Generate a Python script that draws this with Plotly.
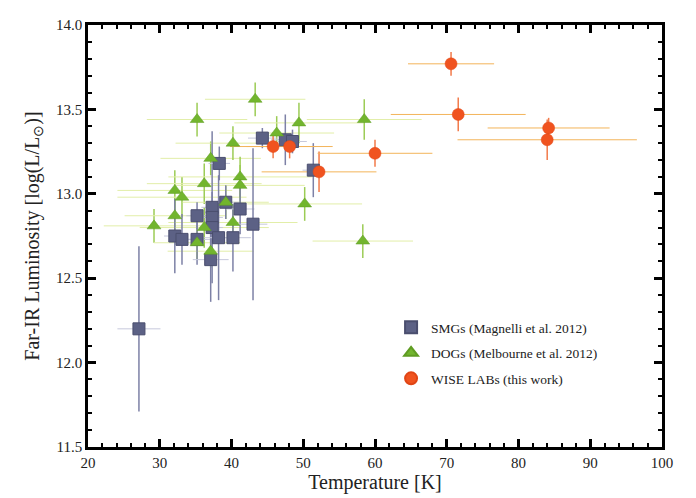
import plotly.graph_objects as go

# SMGs (Magnelli et al. 2012)
smg_T = [27.1, 32.1, 33.1, 35.2, 35.2, 37.1, 37.3, 37.3, 37.3, 38.2, 38.3, 39.2, 40.2, 41.2, 43.0, 44.3, 47.5, 48.5, 51.4]
smg_L = [12.20, 12.75, 12.73, 12.87, 12.73, 12.61, 12.92, 12.86, 12.80, 12.74, 13.18, 12.95, 12.74, 12.91, 12.82, 13.33, 13.32, 13.31, 13.14]
smg_Terr = [3.0, 1.5, 1.5, 1.5, 2.0, 2.5, 1.5, 1.5, 1.5, 2.5, 1.5, 2.0, 2.5, 2.0, 2.0, 2.0, 2.0, 2.0, 1.5]
smg_Lerr = [0.49, 0.22, 0.15, 0.08, 0.15, 0.25, 0.45, 0.15, 0.10, 0.37, 0.10, 0.10, 0.20, 0.15, 0.45, 0.06, 0.15, 0.07, 0.16]

# DOGs (Melbourne et al. 2012)
dog_T = [29.2, 32.1, 32.1, 33.1, 35.2, 35.2, 36.2, 36.2, 37.1, 37.1, 39.2, 40.2, 40.2, 41.2, 41.2, 43.3, 46.3, 49.4, 50.2, 58.3, 58.5]
dog_L = [12.81, 13.02, 12.87, 12.98, 13.44, 12.71, 13.06, 12.80, 13.21, 12.66, 12.95, 13.30, 12.83, 13.10, 13.05, 13.56, 13.36, 13.42, 12.94, 12.72, 13.44]
dog_Terr = [7.0, 8.0, 7.0, 9.0, 7.0, 6.0, 8.0, 9.0, 7.0, 6.0, 6.0, 8.0, 9.0, 10.0, 9.0, 7.0, 8.0, 9.0, 8.0, 7.0, 8.0]
dog_Lerr = [0.10, 0.12, 0.10, 0.12, 0.10, 0.10, 0.12, 0.12, 0.10, 0.10, 0.10, 0.10, 0.10, 0.12, 0.12, 0.10, 0.10, 0.12, 0.10, 0.10, 0.12]

# WISE LABs (this work)
wise_T = [45.8, 48.1, 52.2, 60.0, 70.6, 71.6, 84.2, 84.0]
wise_L = [13.28, 13.28, 13.13, 13.24, 13.77, 13.47, 13.39, 13.32]
wise_Terr = [6.0, 6.0, 8.0, 8.0, 6.0, 9.4, 8.5, 12.5]
wise_Lerr = [0.07, 0.07, 0.12, 0.08, 0.07, 0.10, 0.06, 0.12]

SERIF = "Liberation Serif, Times New Roman, serif"

fig = go.Figure()


def err_trace(x, y, xe, ye, cx, cy, wx=1, wy=1.5):
    return go.Scatter(x=x, y=y, mode="markers", marker=dict(opacity=0, size=1),
                      error_x=dict(type="data", array=xe, color=cx, thickness=wx, width=0),
                      error_y=dict(type="data", array=ye, color=cy, thickness=wy, width=0),
                      showlegend=False, hoverinfo="skip")


fig.add_trace(err_trace(dog_T, dog_L, dog_Terr, dog_Lerr, "#e2eea8", "#9ccc55"))
fig.add_trace(err_trace(smg_T, smg_L, smg_Terr, smg_Lerr, "#c6c8dc", "#7d81a6"))
fig.add_trace(err_trace(wise_T, wise_L, wise_Terr, wise_Lerr, "#f3b45a", "#f27a4a"))

fig.add_trace(go.Scatter(x=smg_T, y=smg_L, mode="markers", name="SMGs (Magnelli et al. 2012)",
                         legendgroup="a",
                         marker=dict(symbol="square", size=12, color="#5c6185",
                                     line=dict(color="#4a4e6e", width=1))))
fig.add_trace(go.Scatter(x=dog_T, y=dog_L, mode="markers", name="DOGs (Melbourne et al. 2012)",
                         legendgroup="b",
                         marker=dict(symbol="triangle-up", size=12, color="#72b52e",
                                     line=dict(color="#5f9c22", width=0.5))))
fig.add_trace(go.Scatter(x=wise_T, y=wise_L, mode="markers", name="WISE LABs (this work)",
                         legendgroup="c",
                         marker=dict(symbol="circle", size=12, color="#f0531f",
                                     line=dict(color="#e04515", width=0.5))))

axis_common = dict(showgrid=False, zeroline=False, showline=True, linecolor="black", linewidth=2.5,
                   mirror="allticks", ticks="inside", ticklen=8, tickwidth=2.5, tickcolor="black",
                   tickfont=dict(family=SERIF, size=15, color="#222"))

fig.update_xaxes(range=[20, 100], dtick=10, tick0=20,
                 title=dict(text="Temperature [K]", font=dict(family=SERIF, size=20, color="#222"), standoff=4),
                 minor=dict(ticks="inside", dtick=2, ticklen=4, tickwidth=2, tickcolor="black"),
                 **axis_common)
fig.update_yaxes(range=[11.5, 14.0], dtick=0.5, tick0=11.5, tickformat=".1f",
                 title=dict(text="Far-IR Luminosity [log(L/L<sub>⊙</sub>)]", font=dict(family=SERIF, size=20, color="#222"), standoff=12),
                 minor=dict(ticks="inside", dtick=0.1, ticklen=4, tickwidth=2, tickcolor="black"),
                 **axis_common)

# page body has an 8px default margin: figure is 8px smaller so it fits the window
fig.update_layout(
    width=688, height=490,
    margin=dict(l=80, r=34, t=9, b=51),
    paper_bgcolor="white", plot_bgcolor="white",
    legend=dict(x=0.528, y=0.32, xanchor="left", yanchor="top",
                font=dict(family=SERIF, size=13.5, color="#222"),
                bgcolor="rgba(0,0,0,0)", itemsizing="constant", tracegroupgap=5),
)

fig.write_html("out.html")
